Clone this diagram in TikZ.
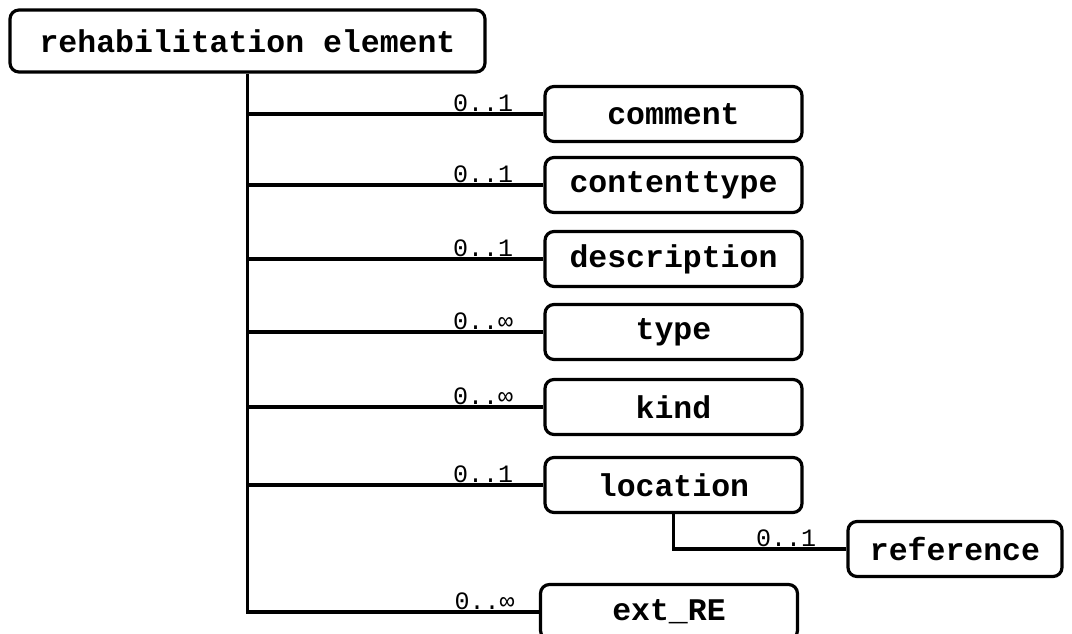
\documentclass[tikz,border=0pt]{standalone}
\usepackage{fontspec}
\setmonofont{Liberation Mono}
\begin{document}
\begin{tikzpicture}[x=1pt,y=-1pt,
  elem/.style={draw,line width=3.2pt,rounded corners=9pt,inner sep=0pt,
    minimum width=257pt,minimum height=55pt,font=\fontsize{31.5}{31.5}\selectfont\ttfamily\bfseries},
  conn/.style={line width=3.2pt},
  card/.style={font=\fontsize{25}{25}\selectfont\ttfamily,inner sep=2pt,anchor=south east}]
\useasboundingbox (0,0) rectangle (1072,634);
\node[elem,minimum width=475pt,minimum height=62pt] (root) at (247.5,41) {rehabilitation element};
\node[elem] (comment) at (673.5,114) {comment};
\node[elem] (contenttype) at (673.5,185) {contenttype};
\node[elem] (description) at (673.5,259) {description};
\node[elem] (type) at (673.5,332) {type};
\node[elem] (kind) at (673.5,407) {kind};
\node[elem] (location) at (673.5,485) {location};
\node[elem,minimum width=214pt] (reference) at (955,549) {reference};
\node[elem] (ext) at (669,612) {ext\_RE};
\draw[conn] (root.south) |- (ext.west);
\foreach \n/\c in {comment/0..1,contenttype/0..1,description/0..1,type/0..∞,kind/0..∞,location/0..1}{
  \draw[conn] (\n.west -| root.south) -- (\n.west);
  \node[card] at ([xshift=-28pt]\n.west) {\c};
}
\node[card] at ([xshift=-22pt]ext.west) {0..∞};
\draw[conn] (location.south) |- (reference.west);
\node[card] at ([xshift=-28pt]reference.west) {0..1};
\end{tikzpicture}
\end{document}
